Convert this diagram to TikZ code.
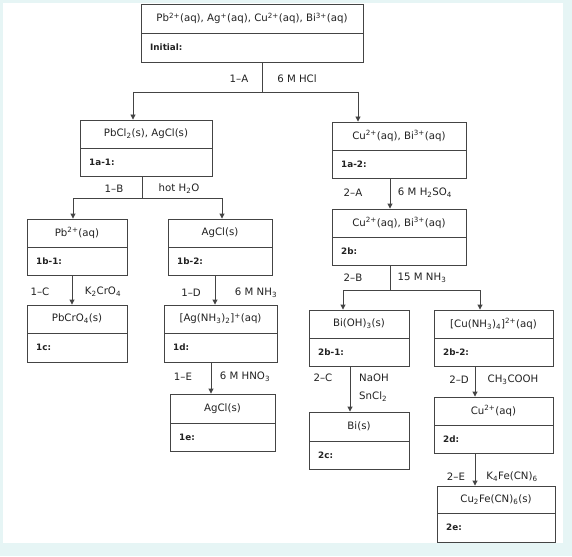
\documentclass[tikz,border=0pt]{standalone}
\usepackage{fontspec}
\setmainfont{DejaVu Sans}
\usetikzlibrary{arrows.meta}
\definecolor{bgcol}{HTML}{E6F5F5}
\definecolor{ln}{HTML}{444444}
\definecolor{tx}{HTML}{222222}
\tikzset{
  boxshape/.style={draw=ln, line width=0.9pt, rectangle, inner sep=0pt},
  toptext/.style={text=tx, font=\fontsize{10.2}{11}\selectfont, inner sep=0pt},
  labtext/.style={text=tx, font=\fontsize{8.8}{10}\selectfont\bfseries, inner sep=0pt, anchor=west},
  reag/.style={text=tx, font=\fontsize{10.2}{11}\selectfont, inner sep=0pt},
  conn/.style={draw=ln, line width=0.9pt},
  arr/.style={conn, -{Triangle[length=5pt,width=5pt]}}
}
% name, x1, y1, x2, y2, ydiv, top text, label
\newcommand{\chembox}[8]{%
  \node[boxshape, minimum width={(#4-#2)*1pt}, minimum height={(#5-#3)*1pt}] (#1) at ({(#2+#4)/2},{(#3+#5)/2}) {};
  \draw[conn] (#2,#6) -- (#4,#6);
  \node[toptext] (#1-t) at ({(#2+#4)/2},{(#3+#6)/2}) {#7};
  \node[labtext] (#1-l) at ({#2+9},{(#6+#5)/2}) {#8};
}
\newcommand{\sps}[1]{\textsuperscript{#1}}
\newcommand{\sbs}[1]{\textsubscript{#1}}
\begin{document}
\begin{tikzpicture}[x=1pt,y=-1pt]
\fill[bgcol] (0,0) rectangle (572,556);
\fill[white] (3,3) rectangle (563,543);
\useasboundingbox (0,0) rectangle (572,556);

\chembox{init}{141}{4}{363}{62}{33}{Pb\sps{2+}(aq), Ag\sps{+}(aq), Cu\sps{2+}(aq), Bi\sps{3+}(aq)}{Initial:}
\chembox{a1}{80}{120}{212}{176}{148}{PbCl\sbs{2}(s), AgCl(s)}{1a-1:}
\chembox{a2}{332}{122}{466}{178}{150}{Cu\sps{2+}(aq), Bi\sps{3+}(aq)}{1a-2:}
\chembox{b1}{27}{219}{127}{275}{247}{Pb\sps{2+}(aq)}{1b-1:}
\chembox{b2}{168}{219}{272}{275}{247}{AgCl(s)}{1b-2:}
\chembox{c}{27}{305}{127}{362}{333}{PbCrO\sbs{4}(s)}{1c:}
\chembox{d}{164}{305}{277}{362}{333}{[Ag(NH\sbs{3})\sbs{2}]\sps{+}(aq)}{1d:}
\chembox{e}{170}{394}{275}{451}{423}{AgCl(s)}{1e:}
\chembox{tb}{332}{209}{466}{265}{237}{Cu\sps{2+}(aq), Bi\sps{3+}(aq)}{2b:}
\chembox{tb1}{309}{310}{409}{366}{338}{Bi(OH)\sbs{3}(s)}{2b-1:}
\chembox{tb2}{434}{310}{553}{366}{338}{[Cu(NH\sbs{3})\sbs{4}]\sps{2+}(aq)}{2b-2:}
\chembox{tc}{309}{412}{409}{469}{441}{Bi(s)}{2c:}
\chembox{td}{434}{397}{553}{453}{425}{Cu\sps{2+}(aq)}{2d:}
\chembox{te}{437}{486}{555}{542}{513}{Cu\sbs{2}Fe(CN)\sbs{6}(s)}{2e:}

% junction coordinates
\coordinate (j1) at (262,92);
\coordinate (j1l) at (133,92);
\coordinate (j1r) at (358,92);
\coordinate (j2) at (142,198);
\coordinate (j2l) at (73,198);
\coordinate (j2r) at (222,198);
\coordinate (j3) at (390,290);
\coordinate (j3l) at (343,290);
\coordinate (j3r) at (480,290);

\draw[conn] (init.south -| j1) -- (j1);
\draw[conn] (j1l) -- (j1r);
\draw[arr] (j1l) -- (a1.north -| j1l);
\draw[arr] (j1r) -- (a2.north -| j1r);

\draw[conn] (a1.south -| j2) -- (j2);
\draw[conn] (j2l) -- (j2r);
\draw[arr] (j2l) -- (b1.north -| j2l);
\draw[arr] (j2r) -- (b2.north -| j2r);

\coordinate (xc) at (72,0);
\coordinate (xd) at (215,0);
\coordinate (xe) at (211,0);
\draw[arr] (b1.south -| xc) -- (c.north -| xc);
\draw[arr] (b2.south -| xd) -- (d.north -| xd);
\draw[arr] (d.south -| xe) -- (e.north -| xe);

\draw[arr] (a2.south -| j3) -- (tb.north -| j3);
\draw[conn] (tb.south -| j3) -- (j3);
\draw[conn] (j3l) -- (j3r);
\draw[arr] (j3l) -- (tb1.north -| j3l);
\draw[arr] (j3r) -- (tb2.north -| j3r);

\coordinate (xtc) at (350,0);
\coordinate (xtd) at (475,0);
\draw[arr] (tb1.south -| xtc) -- (tc.north -| xtc);
\draw[arr] (tb2.south -| xtd) -- (td.north -| xtd);
\draw[arr] (td.south -| xtd) -- (te.north -| xtd);

% reagent labels
\node[reag] (r1a) at (239,79) {1--A};
\node[reag] (r1ab) at (297,79) {6 M HCl};
\node[reag] (r1b) at (114,189) {1--B};
\node[reag] (r1bb) at (179,189) {hot H\sbs{2}O};
\node[reag] (r1c) at (40,292) {1--C};
\node[reag] (r1cb) at (103,292) {K\sbs{2}CrO\sbs{4}};
\node[reag] (r1d) at (191,293) {1--D};
\node[reag] (r1db) at (256,293) {6 M NH\sbs{3}};
\node[reag] (r1e) at (183,377) {1--E};
\node[reag] (r1eb) at (245,377) {6 M HNO\sbs{3}};
\node[reag] (r2a) at (353,193) {2--A};
\node[reag] (r2ab) at (425,193) {6 M H\sbs{2}SO\sbs{4}};
\node[reag] (r2b) at (353,278) {2--B};
\node[reag] (r2bb) at (422,278) {15 M NH\sbs{3}};
\node[reag] (r2c) at (323,378) {2--C};
\node[reag, anchor=west] (r2cb) at (359,378) {NaOH};
\node[reag, anchor=west] (r2cc) at (359,397) {SnCl\sbs{2}};
\node[reag] (r2d) at (459,380) {2--D};
\node[reag] (r2db) at (513,380) {CH\sbs{3}COOH};
\node[reag] (r2e) at (456,477) {2--E};
\node[reag] (r2eb) at (512,477) {K\sbs{4}Fe(CN)\sbs{6}};
\end{tikzpicture}
\end{document}
